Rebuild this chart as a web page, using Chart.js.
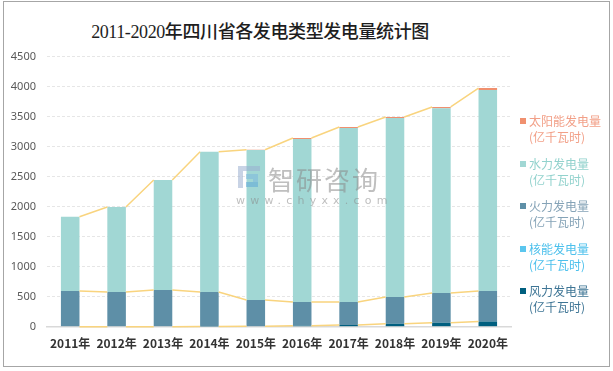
<!DOCTYPE html>
<html>
<head>
<meta charset="utf-8">
<script src="https://cdn.jsdelivr.net/npm/chart.js@4.4.1/dist/chart.umd.min.js"></script>
<style>
  html, body { margin: 0; padding: 0; background: #fff; }
  #wrap { position: relative; width: 613px; height: 371px; overflow: hidden; font-family: "Noto Sans CJK SC", "Noto Sans", sans-serif; }
  #frame { position: absolute; left: 3px; top: 1px; width: 605px; height: 364px; border: 1px solid #a6a6a6; box-sizing: content-box; pointer-events: none; }
  #title { position: absolute; left: 0; width: 520px; top: 17px; text-align: center; font-family: "Liberation Serif", "Noto Sans CJK SC", serif; font-size: 18px; font-weight: 500; color: #1e1e1e; letter-spacing: -0.4px; }
  canvas { position: absolute; left: 0; top: 0; }
  .lg { position: absolute; left: 520px; font-size: 12px; line-height: 16px; }
  .lg .sq { position: absolute; left: 0; top: 5px; width: 6px; height: 6px; }
  .lg .tx { position: absolute; left: 9px; top: 0; white-space: nowrap; }
  #wm { position: absolute; left: 236px; top: 164px; opacity: 0.55; pointer-events: none; }
  #wm .cn { position: absolute; left: 32px; top: -4px; font-size: 26px; color: #8a8a8a; letter-spacing: 2px; white-space: nowrap; }
  #wm .en { position: absolute; left: 0px; top: 30px; font-size: 11px; color: #8a8a8a; letter-spacing: 5.2px; white-space: nowrap; font-family: "DejaVu Sans", sans-serif; }
  #wm .b { position: absolute; }
</style>
</head>
<body>
<div id="wrap">
  <div id="frame"></div>
  <div id="title">2011-2020年四川省各发电类型发电量统计图</div>
  <canvas id="c" width="613" height="371"></canvas>
  <div id="wm">
    <div class="b" style="left:2px;top:2px;width:22px;height:5px;background:#9bb0d0;"></div>
    <div class="b" style="left:2px;top:2px;width:5px;height:22px;background:#9bb0d0;"></div>
    <div class="b" style="left:10px;top:10px;width:12px;height:5px;background:#7fb8dd;"></div>
    <div class="b" style="left:17px;top:10px;width:5px;height:10px;background:#7fb8dd;"></div>
    <div class="b" style="left:10px;top:18px;width:12px;height:5px;background:#5fa8d8;"></div>
    <div class="cn">智研咨询</div>
    <div class="en">www.chyxx.com</div>
  </div>
  <div id="legend"></div>
</div>
<script>
const categories = ["2011年","2012年","2013年","2014年","2015年","2016年","2017年","2018年","2019年","2020年"];
const windPower    = [0, 0, 0, 2, 8, 15, 30, 50, 67, 85];
const nuclearPower = [0, 0, 0, 0, 0, 0, 0, 0, 0, 0];
const thermalPower = [595, 578, 612, 576, 437, 397, 382, 445, 495, 510];
const hydroPower   = [1238, 1417, 1833, 2339, 2502, 2715, 2898, 2982, 3080, 3350];
const solarPower   = [0, 0, 0, 0, 3, 18, 18, 18, 20, 33];
const yTicks = [0, 500, 1000, 1500, 2000, 2500, 3000, 3500, 4000, 4500];
const seriesNames = ["太阳能发电量", "水力发电量", "火力发电量", "核能发电量", "风力发电量"];
const unitLabel = "(亿千瓦时)";

const colors = {
  solar: "#f0906f", hydro: "#a1d7d4", thermal: "#5e8fa7", nuclear: "#5bc6ee", wind: "#005f7f"
};
const textColors = ["#f2a088", "#92d2cd", "#85a3b7", "#4cc0ec", "#3e7595"];
const sqColors = [colors.solar, colors.hydro, colors.thermal, colors.nuclear, colors.wind];

// HTML legend
const lg = document.getElementById('legend');
const legendTops = [113, 155.6, 198, 240.6, 283.2];
seriesNames.forEach((n, i) => {
  const d = document.createElement('div');
  d.className = 'lg';
  d.style.top = legendTops[i] + 'px';
  d.innerHTML = '<div class="sq" style="background:' + sqColors[i] + '"></div><div class="tx" style="color:' + textColors[i] + '">' + n + '<br>' + unitLabel + '</div>';
  lg.appendChild(d);
});

const seriesLines = {
  id: 'seriesLines',
  afterDatasetsDraw(chart) {
    const ctx = chart.ctx;
    ctx.save();
    ctx.strokeStyle = '#f9d47e';
    ctx.lineWidth = 1.5;
    [0, 2, 4].forEach(di => {
      const meta = chart.getDatasetMeta(di);
      ctx.beginPath();
      for (let i = 0; i < meta.data.length - 1; i++) {
        const a = meta.data[i], b = meta.data[i + 1];
        ctx.moveTo(a.x + a.width / 2, a.y);
        ctx.lineTo(b.x - b.width / 2, b.y);
      }
      ctx.stroke();
    });
    ctx.restore();
  }
};

const ds = (label, data, color) => ({
  label, data, backgroundColor: color, borderWidth: 0,
  categoryPercentage: 1.0, barPercentage: 0.4, stack: 's'
});

new Chart(document.getElementById('c'), {
  type: 'bar',
  data: {
    labels: categories,
    datasets: [
      ds(seriesNames[4] + unitLabel, windPower, colors.wind),
      ds(seriesNames[3] + unitLabel, nuclearPower, colors.nuclear),
      ds(seriesNames[2] + unitLabel, thermalPower, colors.thermal),
      ds(seriesNames[1] + unitLabel, hydroPower, colors.hydro),
      ds(seriesNames[0] + unitLabel, solarPower, colors.solar)
    ]
  },
  options: {
    responsive: false,
    animation: false,
    layout: { padding: { left: 0, top: 56.7, right: 102, bottom: 0 } },
    plugins: { legend: { display: false }, tooltip: { enabled: false }, title: { display: false } },
    scales: {
      x: {
        stacked: true,
        z: 1,
        grid: { display: false, drawTicks: false },
        border: { display: true, color: '#d9d9d9', width: 1.5 },
        ticks: { color: '#333', font: { family: 'Noto Sans CJK SC', size: 12, weight: 'bold' }, padding: 10, maxRotation: 0 },
        afterFit(s) { s.height = 44.3; }
      },
      y: {
        stacked: true,
        min: 0, max: 4500,
        afterBuildTicks(s) { s.ticks = yTicks.map(v => ({ value: v })); },
        grid: { color: '#e6e6e6', drawTicks: false, lineWidth: 1 },
        border: { display: false, dash: [3, 2] },
        ticks: { color: '#595959', font: { family: 'Noto Sans', size: 11 }, padding: 11, callback: v => String(v) },
        afterFit(s) { s.width = 47; }
      }
    }
  },
  plugins: [seriesLines]
});
</script>
</body>
</html>
